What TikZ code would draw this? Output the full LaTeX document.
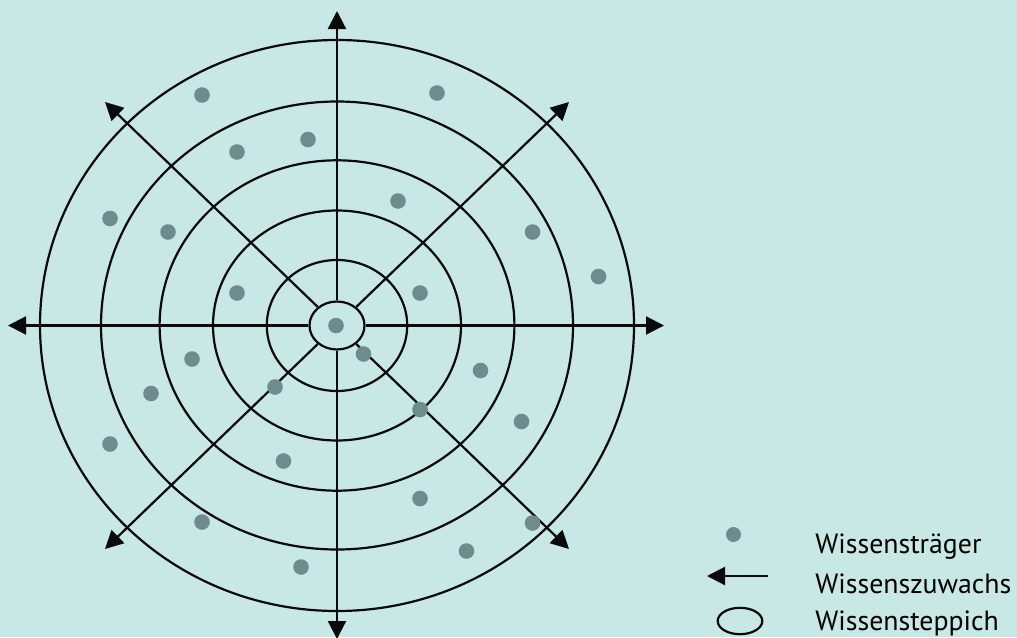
\documentclass[tikz,border=0pt]{standalone}
\usepackage{fontspec}
\setmainfont{PT Sans}
\usetikzlibrary{arrows.meta,shapes.geometric}
\definecolor{grund}{HTML}{C7E8E5}
\definecolor{punkt}{HTML}{6F8C8C}
\definecolor{linie}{HTML}{0A0A0A}
\tikzset{
  pfeil/.style={-{Triangle[length=9pt,width=9pt]},line width=1.1pt,linie},
  ring/.style={draw=linie,line width=1.1pt},
  traeger/.style={fill=punkt},
  legtext/.style={anchor=base west,inner sep=0pt,font=\fontsize{13.9}{17}\selectfont}
}
\begin{document}
\begin{tikzpicture}[x=0.5pt,y=-0.5pt]
\path[use as bounding box,fill=grund] (0,0) rectangle (1017,637);
\coordinate (M) at (337,325.5);
\foreach \rx/\ry in {297/285.5,236/224,177.4/165.2,124/115,70.2/65.5}
  \draw[ring] (M) ellipse [x radius=\rx*0.5pt,y radius=\ry*0.5pt];
\node[ring,ellipse,minimum width=27.5pt,minimum height=24pt,inner sep=0pt] (kern) at (M) {};
\coordinate (n) at (337,11);
\coordinate (s) at (337,639);
\coordinate (w) at (8,325.5);
\coordinate (o) at (664,325.5);
\coordinate (no) at (569,102);
\coordinate (nw) at (105,102);
\coordinate (sw) at (105,549);
\coordinate (so) at (569,549);
\foreach \z in {n,no,o,so,s,sw,w,nw}
  \draw[pfeil] (kern) -- (\z);
\foreach \x/\y in {202/95,437/93,308/139.5,237/152,398/201,110/218.5,168/232,532.5/232,598.5/276.5,
  237/293,420/293,336/325.5,363.5/354,192/359,480.5/370.5,151/393.5,275/387,420/409.5,521.5/421.5,
  110/444,283.5/461,420/498.5,202/522,532.5/523,466.5/551,301/567}
  \fill[traeger] (\x,\y) circle[radius=3.9pt];
\fill[traeger] (733.5,534.5) circle[radius=3.75pt];
\coordinate (la) at (768,576);
\coordinate (lb) at (707,576);
\draw[pfeil] (la) -- (lb);
\node[ring,ellipse,minimum width=22.3pt,minimum height=13.2pt,inner sep=0pt] (lk) at (740,621) {};
\node[legtext] (lt1) at (815,553.3) {Wissensträger};
\node[legtext] (lt2) at (815,593.5) {Wissenszuwachs};
\node[legtext] (lt3) at (815,630.5) {Wissensteppich};
\end{tikzpicture}
\end{document}
